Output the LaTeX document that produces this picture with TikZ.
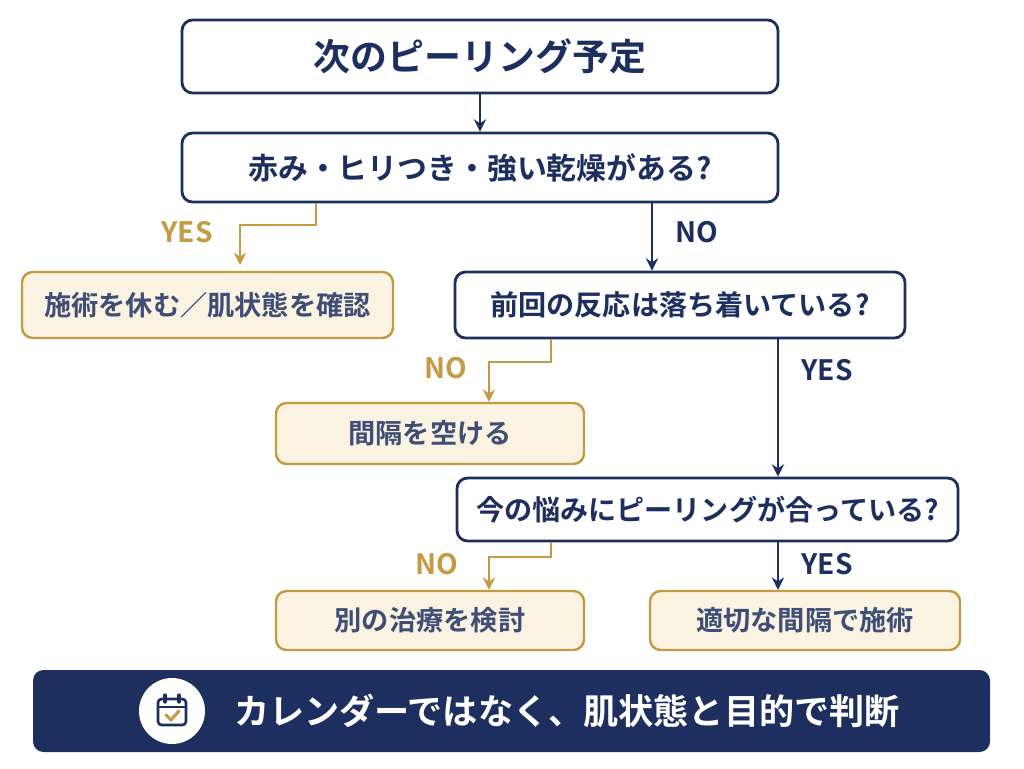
\documentclass[tikz,border=0pt]{standalone}
\usepackage{fontspec}
\setmainfont{Noto Sans CJK JP}[BoldFont={Noto Sans CJK JP Bold}]
\usetikzlibrary{arrows.meta, positioning, calc}
\definecolor{mainNavy}{HTML}{1C2F5E}
\definecolor{accentGold}{HTML}{C49A45}
\definecolor{softCream}{HTML}{FBF3E2}
\tikzset{
    qbox/.style={draw=mainNavy, line width=1.6pt, rounded corners=6pt, fill=white, text=mainNavy, font=\bfseries\fontsize{16}{19}\selectfont},
    abox/.style={draw=accentGold, line width=1.4pt, rounded corners=6pt, fill=softCream, text=mainNavy!85, font=\bfseries\fontsize{15.5}{18}\selectfont},
    navyArrow/.style={draw=mainNavy, line width=1.5pt, -{Stealth[length=7pt,width=7pt]}},
    goldArrow/.style={draw=accentGold, line width=1.5pt, -{Stealth[length=7pt,width=7pt]}},
    goldLabel/.style={text=accentGold, font=\bfseries\fontsize{16}{19}\selectfont},
    navyLabel/.style={text=mainNavy, font=\bfseries\fontsize{16}{19}\selectfont}
}
\newcommand{\BoxAt}[7]{% style, name, x1, y1, x2, y2, text
    \node[#1, minimum width={(#5-#3)*0.02cm}, minimum height={(#6-#4)*0.02cm}] (#2) at ({(#3+#5)/2}, {-(#4+#6)/2}) {#7};
}
\begin{document}
\begin{tikzpicture}[x=0.02cm, y=0.02cm]
    \useasboundingbox (0,0) rectangle (1024,-768);
    % Questions
    \BoxAt{qbox, font=\bfseries\fontsize{21}{24}\selectfont}{start}{182}{20}{778}{93}{次のピーリング予定}
    \BoxAt{qbox, font=\bfseries\fontsize{17}{20}\selectfont}{irritation}{182}{133}{778}{202}{赤み・ヒリつき・強い乾燥がある?}
    \BoxAt{qbox}{reaction}{455}{272}{905}{338}{前回の反応は落ち着いている?}
    \BoxAt{qbox}{concern}{457}{478}{958}{541}{今の悩みにピーリングが合っている?}
    % Outcomes
    \BoxAt{abox}{rest}{22}{272}{393}{338}{施術を休む／肌状態を確認}
    \BoxAt{abox}{wait}{276}{403}{584}{464}{間隔を空ける}
    \BoxAt{abox}{other}{276}{591}{584}{650}{別の治療を検討}
    \BoxAt{abox}{proceed}{650}{591}{960}{650}{適切な間隔で施術}
    % Connectors
    \draw[navyArrow] (start) -- (irritation);
    \draw[goldArrow] (irritation.south -| 316,0) |- (240,-225) -- (240,-265);
    \node[goldLabel] (yes1) at (187,-232) {YES};
    \draw[navyArrow] (irritation.south -| 652,0) -- (reaction.north -| 652,0);
    \node[navyLabel] (no1) at (697,-232) {NO};
    \draw[goldArrow] (reaction.south -| 551,0) |- (489,-362) -- (wait.north -| 489,0);
    \node[goldLabel] (no2) at (446,-368) {NO};
    \draw[navyArrow] (reaction.south -| 778,0) -- (concern.north -| 778,0);
    \node[navyLabel] (yes2) at (827,-370) {YES};
    \draw[goldArrow] (concern.south -| 551,0) |- (489,-557) -- (other.north -| 489,0);
    \node[goldLabel] (no3) at (437,-564) {NO};
    \draw[navyArrow] (concern.south -| 778,0) -- (proceed.north -| 778,0);
    \node[navyLabel] (yes3) at (827,-564) {YES};
    % Banner
    \fill[mainNavy, rounded corners=6pt] (33,-670) rectangle (990,-752);
    \fill[white] (172,-711) circle (33);
    \begin{scope}[shift={(172,-711)}]
        % calendar icon
        \draw[mainNavy, line width=1.5pt, rounded corners=2pt] (-14,-14) rectangle (14,12);
        \draw[mainNavy, line width=1.5pt] (-14,4) -- (14,4);
        \draw[mainNavy, line width=1.8pt, line cap=round] (-7,16) -- (-7,9) (7,16) -- (7,9);
        \draw[accentGold, line width=1.8pt, line cap=round, line join=round] (-6,-4) -- (-1,-9) -- (7,0);
    \end{scope}
    \node[text=white, font=\bfseries\fontsize{20}{24}\selectfont] (motto) at (567,-711) {カレンダーではなく、肌状態と目的で判断};
\end{tikzpicture}
\end{document}
